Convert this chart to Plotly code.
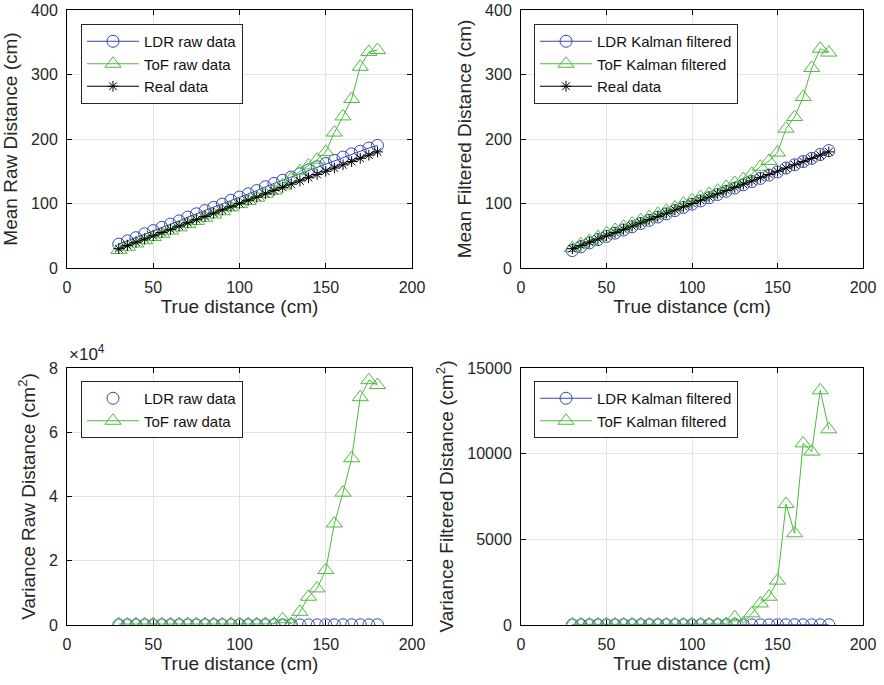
import plotly.graph_objects as go

true_dist = [30, 35, 40, 45, 50, 55, 60, 65, 70, 75, 80, 85, 90, 95, 100, 105,
             110, 115, 120, 125, 130, 135, 140, 145, 150, 155, 160, 165, 170, 175, 180]

real_data = [30, 35, 40, 45, 50, 55, 60, 65, 70, 75, 80, 85, 90, 95, 100, 105,
             110, 115, 120, 125, 130, 135, 140, 145, 150, 155, 160, 165, 170, 175, 180]

ldr_raw_mean = [37, 42, 47, 53, 58, 63, 68, 73, 79, 84, 89, 94, 99, 105, 110, 115,
                120, 126, 131, 136, 141, 146, 152, 157, 162, 167, 172, 177, 181, 186, 190]
tof_raw_mean = [28, 33, 38, 43, 48, 53, 58, 63, 68, 73, 78, 83, 88, 94, 99, 104,
                109, 115, 120, 128, 138, 150, 159, 168, 180, 210, 235, 262, 312, 335, 338]

ldr_kal_mean = [27, 33, 39, 44, 49, 54, 59, 64, 69, 74, 79, 84, 89, 94, 99, 104,
                109, 114, 119, 124, 129, 134, 139, 144, 149, 155, 160, 165, 170, 176, 182]
tof_kal_mean = [31, 37, 42, 48, 54, 59, 64, 69, 74, 79, 84, 89, 94, 100, 105, 110,
                115, 120, 126, 132, 138, 146, 157, 166, 179, 216, 234, 265, 310, 340, 334]

ldr_raw_var = [20, 15, 18, 20, 22, 25, 20, 18, 22, 25, 28, 30, 25, 28, 30, 35,
               30, 35, 38, 40, 45, 40, 45, 50, 55, 60, 55, 60, 65, 70, 75]
tof_raw_var = [300, 250, 300, 280, 320, 300, 280, 300, 320, 300, 310, 290, 300, 320, 330, 300,
               320, 350, 400, 1800, 300, 4100, 8800, 11400, 17100, 31600, 41200, 51900, 70900, 76200, 74700]

ldr_kal_var = [5, 4, 5, 5, 6, 5, 5, 6, 6, 5, 6, 6, 7, 6, 7, 7,
               8, 7, 8, 8, 9, 9, 10, 10, 11, 11, 12, 12, 13, 13, 14]
tof_kal_var = [40, 35, 40, 38, 42, 40, 38, 40, 42, 40, 41, 39, 40, 42, 43, 40,
               42, 45, 60, 450, 100, 680, 1260, 1650, 2590, 7060, 5350, 10600, 10120, 13700, 11420]

x_ticks = [0, 50, 100, 150, 200]
mean_ticks = [0, 100, 200, 300, 400]
var_raw_ticks = [0, 20000, 40000, 60000, 80000]
var_raw_ticktext = ["0", "2", "4", "6", "8"]
var_kal_ticks = [0, 5000, 10000, 15000]

BLUE = "#3546B8"
GREEN = "#4CBB3C"
BLACK = "#000000"
FONT = "Liberation Sans, Arial, sans-serif"
TXT = "#262626"

W, H = 884, 685
def px_x(a, b):
    return [a / W, b / W]
def px_y(top, bottom):
    return [1 - bottom / H, 1 - top / H]

fig = go.Figure()

def add(x, y, name, color, symbol, size, xa, ya, legend, mode="lines+markers"):
    fig.add_trace(go.Scatter(
        x=x, y=y, name=name, mode=mode, xaxis=xa, yaxis=ya, legend=legend,
        line=dict(color=color, width=1),
        marker=dict(symbol=symbol, size=size, color=color,
                    line=dict(color=color, width=1)),
    ))

# Top-left
add(true_dist, ldr_raw_mean, "LDR raw data", BLUE, "circle-open", 12, "x", "y", "legend")
add(true_dist, tof_raw_mean, "ToF raw data", GREEN, "triangle-up-open", 14, "x", "y", "legend")
add(true_dist, real_data, "Real data", BLACK, "asterisk-open", 9, "x", "y", "legend")
# Top-right
add(true_dist, ldr_kal_mean, "LDR Kalman filtered", BLUE, "circle-open", 12, "x2", "y2", "legend2")
add(true_dist, tof_kal_mean, "ToF Kalman filtered", GREEN, "triangle-up-open", 14, "x2", "y2", "legend2")
add(true_dist, real_data, "Real data", BLACK, "asterisk-open", 9, "x2", "y2", "legend2")
# Bottom-left
add(true_dist, ldr_raw_var, "LDR raw data", BLUE, "circle-open", 12, "x3", "y3", "legend3", mode="markers")
add(true_dist, tof_raw_var, "ToF raw data", GREEN, "triangle-up-open", 14, "x3", "y3", "legend3")
# Bottom-right
add(true_dist, ldr_kal_var, "LDR Kalman filtered", BLUE, "circle-open", 12, "x4", "y4", "legend4")
add(true_dist, tof_kal_var, "ToF Kalman filtered", GREEN, "triangle-up-open", 14, "x4", "y4", "legend4")

axis_common = dict(
    showline=True, linecolor="black", linewidth=1, mirror="ticks",
    ticks="inside", ticklen=5, tickcolor="black", tickwidth=1,
    showgrid=True, gridcolor="#E3E3E3", gridwidth=1, zeroline=False,
    automargin=False, ticklabelstandoff=5,
    tickfont=dict(family=FONT, size=16, color=TXT),
    title_font=dict(family=FONT, size=19, color=TXT),
)

def xaxis(domain, anchor):
    return dict(axis_common, domain=domain, anchor=anchor, range=[0, 200],
                tickvals=x_ticks, title=dict(text="True distance (cm)", standoff=4))

def yaxis(domain, anchor, rng, tickvals, title, ticktext=None, fmt=None):
    d = dict(axis_common, domain=domain, anchor=anchor, range=rng,
             tickvals=tickvals, title=dict(text=title, standoff=8))
    if ticktext is not None:
        d["ticktext"] = ticktext
    if fmt is not None:
        d["tickformat"] = fmt
    return d

dx_left = px_x(67, 412)
dx_right = px_x(521, 863)
dy_top = px_y(10, 268)
dy_bot = px_y(368, 625)

legend_common = dict(
    bgcolor="white", bordercolor=TXT, borderwidth=1,
    font=dict(family=FONT, size=15, color="#111111"),
    xanchor="left", yanchor="top", itemwidth=52, tracegroupgap=0,
    itemclick=False,
)

fig.update_layout(
    width=W, height=H,
    margin=dict(l=0, r=0, t=0, b=0),
    paper_bgcolor="white", plot_bgcolor="white",
    font=dict(family=FONT, color=TXT),
    showlegend=True,
    xaxis=xaxis(dx_left, "y"),
    yaxis=yaxis(dy_top, "x", [0, 400], mean_ticks, "Mean Raw Distance (cm)"),
    xaxis2=xaxis(dx_right, "y2"),
    yaxis2=yaxis(dy_top, "x2", [0, 400], mean_ticks, "Mean Filtered Distance (cm)"),
    xaxis3=xaxis(dx_left, "y3"),
    yaxis3=yaxis(dy_bot, "x3", [0, 80000], var_raw_ticks,
                 "Variance Raw Distance (cm<sup>2</sup>)", var_raw_ticktext),
    xaxis4=xaxis(dx_right, "y4"),
    yaxis4=yaxis(dy_bot, "x4", [0, 15000], var_kal_ticks,
                 "Variance Filtered Distance (cm<sup>2</sup>)", fmt="d"),
    legend=dict(legend_common, x=81 / W, y=1 - 24 / H),
    legend2=dict(legend_common, x=534 / W, y=1 - 24 / H),
    legend3=dict(legend_common, x=81 / W, y=1 - 381 / H),
    legend4=dict(legend_common, x=534 / W, y=1 - 381 / H),
    annotations=[dict(
        text="×10<sup>4</sup>", xref="paper", yref="paper",
        x=67 / W, y=1 - 366 / H, xanchor="left", yanchor="bottom",
        showarrow=False, font=dict(family=FONT, size=17, color=TXT),
    )],
)

fig.write_html("out.html",
               config={"displayModeBar": False},
               post_script="document.body.style.margin='0px';document.body.style.padding='0px';")
